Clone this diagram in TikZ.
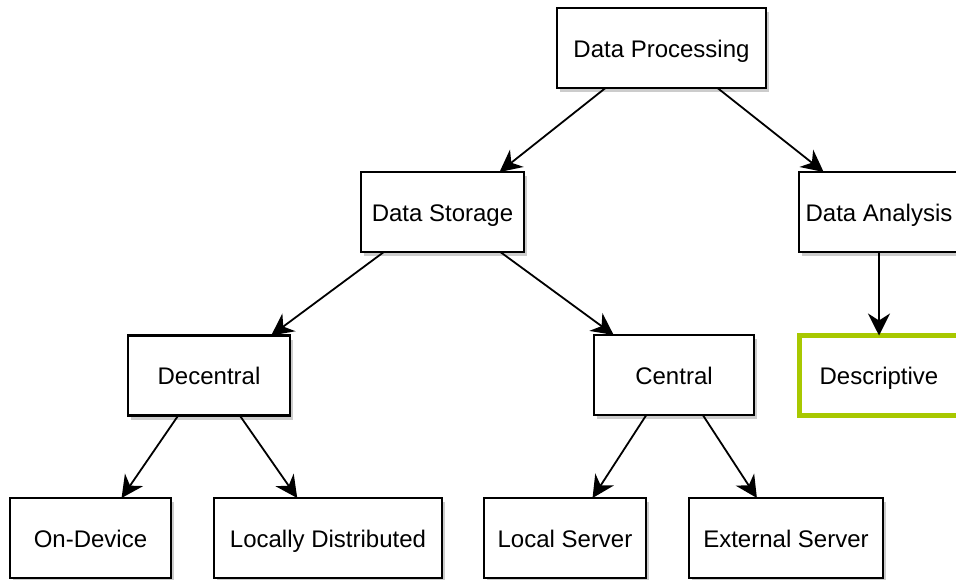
\documentclass[tikz,border=0pt]{standalone}
\usepackage{fontspec}
\setmainfont{Liberation Sans}
\usetikzlibrary{arrows.meta,calc,shadows}
\definecolor{descgreen}{RGB}{168,200,0}
\begin{document}
\begin{tikzpicture}[x=1pt,y=-1pt,
  box/.style={draw=black, line width=2.2pt, fill=white, minimum height=80pt,
    inner sep=0pt, outer sep=0pt, font=\fontsize{24}{28}\selectfont,
    text height=18pt, text depth=0pt,
    drop shadow={shadow xshift=3pt, shadow yshift=-4pt, fill=black, opacity=0.2}},
  greenbox/.style={draw=descgreen, line width=4.5pt, fill=white, minimum height=80pt,
    inner sep=0pt, outer sep=0pt, font=\fontsize{24}{28}\selectfont,
    text height=18pt, text depth=0pt},
  conn/.style={line width=1.8pt, -{Stealth[length=22pt,width=22pt,inset=7pt]}}]
\useasboundingbox (0,0) rectangle (956,579);
\clip (0,0) rectangle (956,579);
\fill[white] (0,0) rectangle (956,579);
% nodes
\node[box, minimum width=209pt] (dp)  at (661.5,48)  {Data Processing};
\node[box, minimum width=163pt] (ds)  at (442.5,212) {Data Storage};
\node[box, minimum width=160pt] (da)  at (879,212)   {Data Analysis};
\node[box, minimum width=162pt] (dec) at (209,375.5) {Decentral};
\node[box, minimum width=160pt] (cen) at (674,375)   {Central};
\node[greenbox, minimum width=159pt] (desc) at (879,375.5) {Descriptive};
\node[box, minimum width=161pt] (od)  at (90.5,538)  {On-Device};
\node[box, minimum width=228pt] (ld)  at (328,538)   {Locally Distributed};
\node[box, minimum width=162pt] (ls)  at (565,538)   {Local Server};
\node[box, minimum width=194pt] (es)  at (786,538)   {External Server};
% connectors
\draw[conn] ($(dp.south west)!0.232!(dp.south east)$) -- ($(ds.north west)!0.85!(ds.north east)$);
\draw[conn] ($(dp.south west)!0.768!(dp.south east)$) -- ($(da.north west)!0.154!(da.north east)$);
\draw[conn] ($(ds.south west)!0.14!(ds.south east)$) -- ($(dec.north west)!0.884!(dec.north east)$);
\draw[conn] ($(ds.south west)!0.855!(ds.south east)$) -- ($(cen.north west)!0.123!(cen.north east)$);
\draw[conn] (da.south) -- (desc.north);
\draw[conn] ($(dec.south west)!0.31!(dec.south east)$) -- ($(od.north west)!0.693!(od.north east)$);
\draw[conn] ($(dec.south west)!0.69!(dec.south east)$) -- ($(ld.north west)!0.365!(ld.north east)$);
\draw[conn] ($(cen.south west)!0.327!(cen.south east)$) -- ($(ls.north west)!0.67!(ls.north east)$);
\draw[conn] ($(cen.south west)!0.68!(cen.south east)$) -- ($(es.north west)!0.35!(es.north east)$);
\end{tikzpicture}
\end{document}
